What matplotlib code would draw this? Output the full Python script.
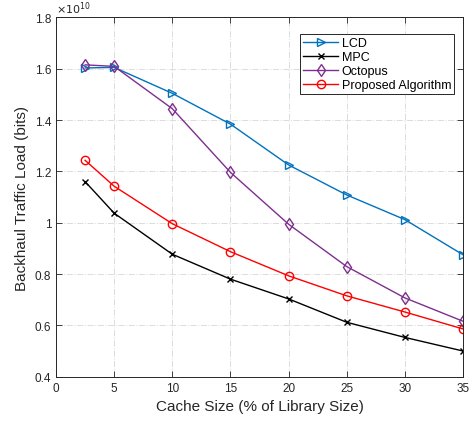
import matplotlib.pyplot as plt
import numpy as np

plt.rcParams['font.family'] = ['Liberation Sans', 'DejaVu Sans']

# cache size (% of library size)
cache_size = [2.5, 5, 10, 15, 20, 25, 30, 35]

# backhaul traffic load, units of 1e10 bits
lcd = [1.603, 1.605, 1.504, 1.384, 1.225, 1.108, 1.012, 0.875]
mpc = [1.160, 1.037, 0.877, 0.780, 0.703, 0.612, 0.553, 0.500]
octopus = [1.615, 1.609, 1.444, 1.196, 0.994, 0.829, 0.707, 0.616]
proposed = [1.243, 1.142, 0.996, 0.887, 0.793, 0.715, 0.652, 0.586]

scale = 1e10

fig = plt.figure(figsize=(4.71, 4.27), dpi=100)
ax = fig.add_axes([0.119, 0.1155, 0.864, 0.8415])

ax.plot(cache_size, np.array(lcd) * scale, color='#0072BD', marker='>', mfc='none',
        ms=6, lw=1.0, label='LCD')
ax.plot(cache_size, np.array(mpc) * scale, color='black', marker='x',
        ms=4.5, lw=1.0, label='MPC')
ax.plot(cache_size, np.array(octopus) * scale, color='#7E2F8E', marker='d', mfc='none',
        ms=6, lw=1.0, label='Octopus')
ax.plot(cache_size, np.array(proposed) * scale, color='#FF0000', marker='o', mfc='none',
        ms=6, lw=1.0, label='Proposed Algorithm')

ax.set_xlim(0, 35)
ax.set_ylim(0.4e10, 1.8e10)
ax.set_xticks(range(0, 36, 5))
ax.set_yticks(np.arange(0.4, 1.81, 0.2) * scale)
ax.set_yticklabels(['0.4', '0.6', '0.8', '1', '1.2', '1.4', '1.6', '1.8'])
ax.text(0.0, 1.005, r'$\times 10^{10}$', transform=ax.transAxes, fontsize=8,
        color='#262626', va='bottom', ha='left')

ax.grid(True, color='#dcdcdc', linestyle='-.', linewidth=0.7)
ax.tick_params(direction='in', top=True, right=True, labelsize=8.5, colors='#262626',
               length=4, width=0.6)
for sp in ax.spines.values():
    sp.set_color('#262626')
    sp.set_linewidth(0.7)

ax.set_xlabel('Cache Size (% of Library Size)', fontsize=11, color='#262626')
ax.set_ylabel('Backhaul Traffic Load (bits)', fontsize=11, color='#262626')

leg = ax.legend(loc='upper right', bbox_to_anchor=(0.985, 0.96), fontsize=9,
                fancybox=False, framealpha=1, edgecolor='#262626',
                borderpad=0.25, labelspacing=0.15, handlelength=2.8,
                handletextpad=0.3, borderaxespad=0.2)
leg.get_frame().set_linewidth(0.7)

fig.savefig('out.png', dpi=100)
